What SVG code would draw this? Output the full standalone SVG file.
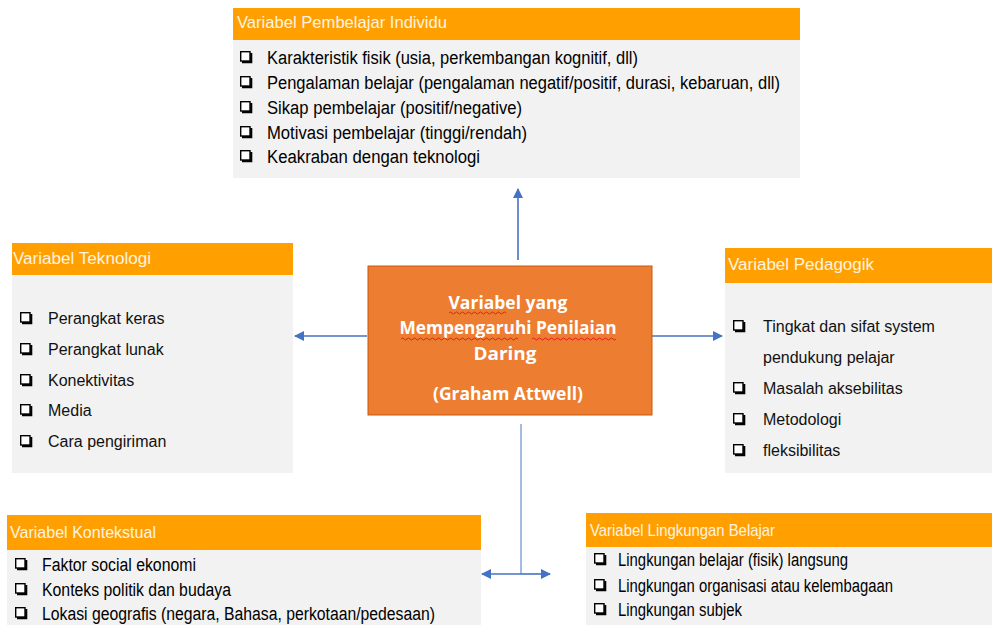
<svg xmlns="http://www.w3.org/2000/svg" xmlns:xlink="http://www.w3.org/1999/xlink" width="992" height="625" viewBox="0 0 992 625">
<style>
.hdr{fill:#ffa000}
.body{fill:#f2f2f2}
.ht{fill:#fff3e0;font-family:"Liberation Sans Narrow","Liberation Sans",Arial,sans-serif;font-size:17px}
.htw{fill:#fff3e0;font-family:"Liberation Sans",Arial,sans-serif;font-size:16px}
.nt{fill:#000;font-family:"Liberation Sans Narrow","Liberation Sans",Arial,sans-serif;font-size:18px}
.wt{fill:#111;font-family:"Liberation Sans",Arial,sans-serif;font-size:16px}
.ct{fill:#ffffff;font-family:"Open Sans","Liberation Sans",sans-serif;font-size:17px;font-weight:bold;text-anchor:middle}
.conn{stroke:#4472c4;stroke-width:1.6;fill:none}
.wavy{stroke:#e02020;stroke-width:1;fill:none}
</style>
<defs>
<marker id="ah" viewBox="0 0 10 10" refX="9" refY="5" markerWidth="11" markerHeight="10" orient="auto" markerUnits="userSpaceOnUse">
<path d="M0,0 L10,5 L0,10 z" fill="#4472c4"/>
</marker>
<g id="cb">
<rect x="0.7" y="0.7" width="9.3" height="9.3" fill="#fff" stroke="#000" stroke-width="1.4"/>
<path d="M2,11.2 H11.2 V2" stroke="#000" stroke-width="2.2" fill="none"/>
</g>
</defs>

<g id="connectors">
<line class="conn" x1="518" y1="260" x2="518" y2="189" marker-end="url(#ah)"/>
<line class="conn" x1="367" y1="336" x2="295" y2="336" marker-end="url(#ah)"/>
<line class="conn" x1="652" y1="336" x2="722" y2="336" marker-end="url(#ah)"/>
<line x1="521" y1="424" x2="521" y2="574" stroke="#8faadc" stroke-width="1.6"/>
<line class="conn" x1="521" y1="574" x2="482" y2="574" marker-end="url(#ah)"/>
<line class="conn" x1="521" y1="574" x2="550" y2="574" marker-end="url(#ah)"/>
</g>

<g id="individu">
<rect class="body" x="233" y="40" width="567" height="138"/>
<rect class="hdr" x="233" y="8" width="567" height="32"/>
<text class="ht" x="237" y="28" textLength="210" lengthAdjust="spacingAndGlyphs">Variabel Pembelajar Individu</text>
<use xlink:href="#cb" x="240" y="51"/>
<text class="nt" x="267" y="64" textLength="371" lengthAdjust="spacingAndGlyphs">Karakteristik fisik (usia, perkembangan kognitif, dll)</text>
<use xlink:href="#cb" x="240" y="76"/>
<text class="nt" x="267" y="89" textLength="513" lengthAdjust="spacingAndGlyphs">Pengalaman belajar (pengalaman negatif/positif, durasi, kebaruan, dll)</text>
<use xlink:href="#cb" x="240" y="101"/>
<text class="nt" x="267" y="114" textLength="255" lengthAdjust="spacingAndGlyphs">Sikap pembelajar (positif/negative)</text>
<use xlink:href="#cb" x="240" y="126"/>
<text class="nt" x="267" y="139" textLength="260" lengthAdjust="spacingAndGlyphs">Motivasi pembelajar (tinggi/rendah)</text>
<use xlink:href="#cb" x="240" y="150"/>
<text class="nt" x="267" y="163" textLength="213" lengthAdjust="spacingAndGlyphs">Keakraban dengan teknologi</text>
</g>

<g id="teknologi">
<rect class="body" x="12" y="275" width="281" height="198"/>
<rect class="hdr" x="12" y="243" width="281" height="32"/>
<text class="htw" x="13" y="264" textLength="138" lengthAdjust="spacingAndGlyphs">Variabel Teknologi</text>
<use xlink:href="#cb" x="20" y="312"/>
<text class="wt" x="48" y="324">Perangkat keras</text>
<use xlink:href="#cb" x="20" y="343"/>
<text class="wt" x="48" y="355">Perangkat lunak</text>
<use xlink:href="#cb" x="20" y="374"/>
<text class="wt" x="48" y="386">Konektivitas</text>
<use xlink:href="#cb" x="20" y="404"/>
<text class="wt" x="48" y="416">Media</text>
<use xlink:href="#cb" x="20" y="435"/>
<text class="wt" x="48" y="447">Cara pengiriman</text>
</g>

<g id="pedagogik">
<rect class="body" x="725" y="283" width="267" height="190"/>
<rect class="hdr" x="725" y="248" width="267" height="35"/>
<text class="htw" x="728" y="270" textLength="146" lengthAdjust="spacingAndGlyphs">Variabel Pedagogik</text>
<use xlink:href="#cb" x="733" y="320"/>
<text class="wt" x="763" y="332">Tingkat dan sifat system</text>
<text class="wt" x="763" y="363">pendukung pelajar</text>
<use xlink:href="#cb" x="733" y="382"/>
<text class="wt" x="763" y="394">Masalah aksebilitas</text>
<use xlink:href="#cb" x="733" y="413"/>
<text class="wt" x="763" y="425">Metodologi</text>
<use xlink:href="#cb" x="733" y="444"/>
<text class="wt" x="763" y="456">fleksibilitas</text>
</g>

<g id="kontekstual">
<rect class="body" x="7" y="550" width="474" height="75"/>
<rect class="hdr" x="7" y="515" width="474" height="35"/>
<text class="ht" x="10" y="538" textLength="146" lengthAdjust="spacingAndGlyphs">Variabel Kontekstual</text>
<use xlink:href="#cb" x="15" y="558"/>
<text class="nt" x="42" y="571" textLength="154" lengthAdjust="spacingAndGlyphs">Faktor social ekonomi</text>
<use xlink:href="#cb" x="15" y="583"/>
<text class="nt" x="42" y="596" textLength="189" lengthAdjust="spacingAndGlyphs">Konteks politik dan budaya</text>
<use xlink:href="#cb" x="15" y="607"/>
<text class="nt" x="42" y="620" textLength="393" lengthAdjust="spacingAndGlyphs">Lokasi geografis (negara, Bahasa, perkotaan/pedesaan)</text>
</g>

<g id="lingkungan">
<rect class="body" x="586" y="547" width="406" height="78"/>
<rect class="hdr" x="586" y="513" width="406" height="34"/>
<text class="ht" x="590" y="536" textLength="185" lengthAdjust="spacingAndGlyphs">Variabel Lingkungan Belajar</text>
<use xlink:href="#cb" x="594" y="553"/>
<text class="nt" x="618" y="566" textLength="230" lengthAdjust="spacingAndGlyphs">Lingkungan belajar (fisik) langsung</text>
<use xlink:href="#cb" x="594" y="579"/>
<text class="nt" x="618" y="592" textLength="275" lengthAdjust="spacingAndGlyphs">Lingkungan organisasi atau kelembagaan</text>
<use xlink:href="#cb" x="594" y="603"/>
<text class="nt" x="618" y="616" textLength="124" lengthAdjust="spacingAndGlyphs">Lingkungan subjek</text>
</g>

<g id="center">
<rect x="368" y="266" width="284" height="149" fill="#ed7d31" stroke="#c55a11" stroke-width="1"/>
<text class="ct" x="508" y="309" textLength="119" lengthAdjust="spacingAndGlyphs">Variabel yang</text>
<text class="ct" x="508" y="334" textLength="217" lengthAdjust="spacingAndGlyphs">Mempengaruhi Penilaian</text>
<text class="ct" x="505" y="360" textLength="63" lengthAdjust="spacingAndGlyphs">Daring</text>
<text class="ct" x="508" y="400" textLength="150" lengthAdjust="spacingAndGlyphs">(Graham Attwell)</text>
<path class="wavy" d="M449,313 q1.5,-2 3,0 t3,0 t3,0 t3,0 t3,0 t3,0 t3,0 t3,0 t3,0 t3,0 t3,0 t3,0 t3,0 t3,0 t3,0 t3,0 t3,0 t3,0 t3,0"/>
<path class="wavy" d="M401,339 q1.5,-2 3,0 t3,0 t3,0 t3,0 t3,0 t3,0 t3,0 t3,0 t3,0 t3,0 t3,0 t3,0 t3,0 t3,0 t3,0 t3,0 t3,0 t3,0 t3,0 t3,0 t3,0 t3,0 t3,0 t3,0 t3,0 t3,0 t3,0 t3,0 t3,0 t3,0 t3,0 t3,0 t3,0 t3,0 t3,0 t3,0 t3,0 t3,0 t3,0"/>
<path class="wavy" d="M532,339 q1.5,-2 3,0 t3,0 t3,0 t3,0 t3,0 t3,0 t3,0 t3,0 t3,0 t3,0 t3,0 t3,0 t3,0 t3,0 t3,0 t3,0 t3,0 t3,0 t3,0 t3,0 t3,0 t3,0 t3,0 t3,0 t3,0 t3,0 t3,0 t3,0"/>
</g>
</svg>
